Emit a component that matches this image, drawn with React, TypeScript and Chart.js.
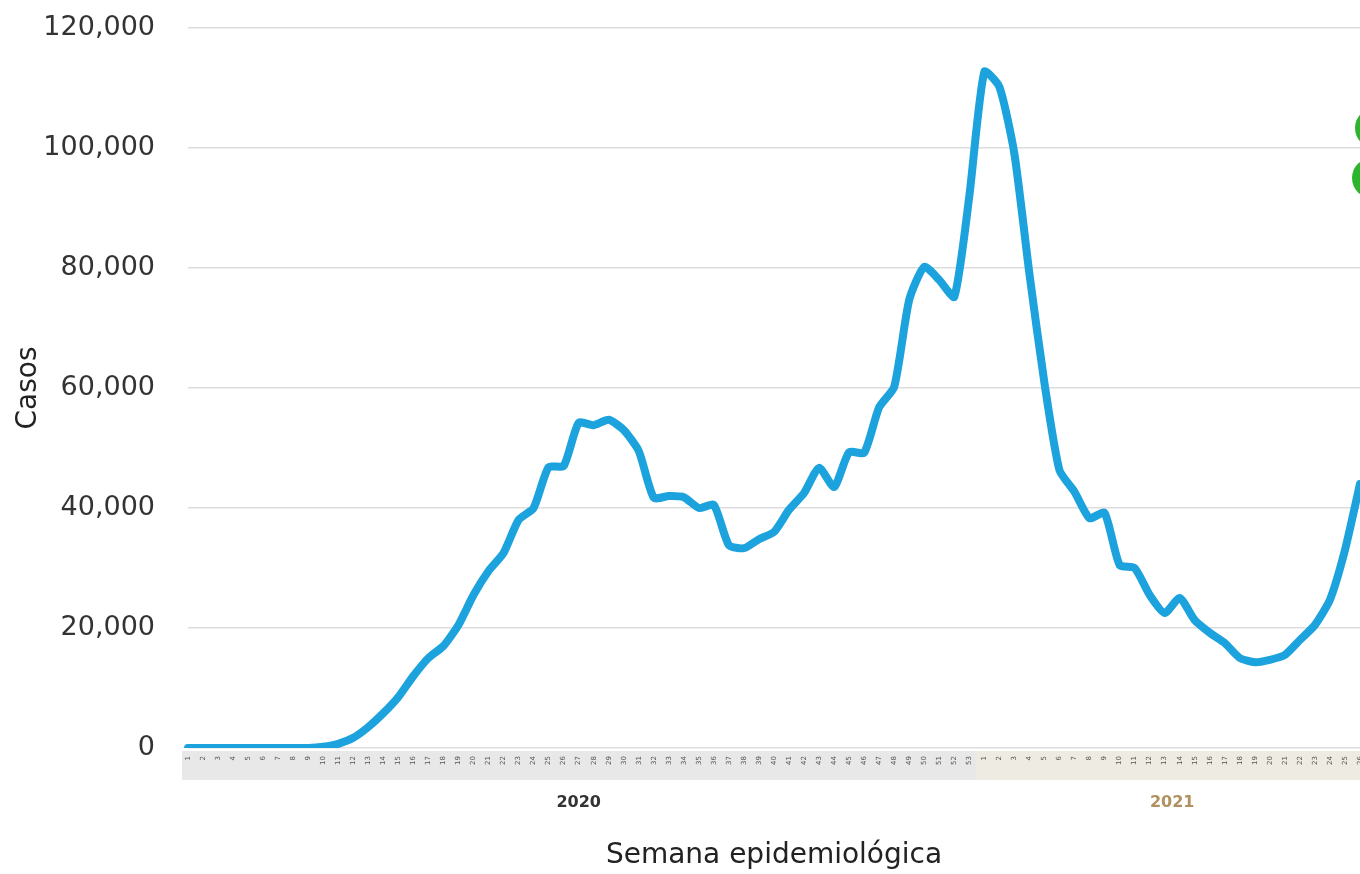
import React, { useEffect, useRef } from "react";
import { Chart, registerables } from "chart.js";

Chart.register(...registerables);

const weeks2020: string[] = Array.from({ length: 53 }, (_, i) => String(i + 1));
const weeks2021: string[] = Array.from({ length: 26 }, (_, i) => String(i + 1));
const weekLabels: string[] = [...weeks2020, ...weeks2021];

const yearLabels: string[] = ["2020", "2021"];
const yearColors: string[] = ["#333333", "#b0915f"];

const casos2020: number[] = [
  0, 0, 0, 0, 0, 0, 0, 0, 0, 200,
  700, 1700, 3500, 5800, 8500, 12000, 15000, 17000, 20500, 25500,
  29500, 32500, 38000, 40000, 46800, 47000, 54200, 53800, 54700, 53000,
  49500, 41700, 42000, 41800, 40000, 40500, 33800, 33300, 34800, 36000,
  39700, 42500, 46700, 43500, 49300, 49200, 56800, 60200, 74700, 80200,
  78000, 75200, 92000,
];
const casos2021: number[] = [
  112700, 110200, 99000, 79000, 60800, 46300, 42700, 38300, 39200, 30500,
  30000, 25500, 22500, 25000, 21300, 19200, 17500, 15000, 14300, 14700,
  15500, 18000, 20500, 24700, 33000, 44000,
];
const casos: number[] = [...casos2020, ...casos2021];

const W = 1360;
const H = 874;

export default function App() {
  const ref = useRef<HTMLCanvasElement | null>(null);

  useEffect(() => {
    if (!ref.current) return;

    const bandPlugin = {
      id: "bandPlugin",
      beforeDraw(chart: any) {
        const { ctx, chartArea, scales } = chart;
        const x = scales.x;
        const split =
          (x.getPixelForValue(weeks2020.length - 1) + x.getPixelForValue(weeks2020.length)) / 2;
        ctx.save();
        ctx.fillStyle = "#ffffff";
        ctx.fillRect(0, 0, chart.width, chart.height);
        const top = chartArea.bottom + 3;
        const h = 29;
        ctx.fillStyle = "#e8e8e8";
        ctx.fillRect(chartArea.left - 6, top, split - (chartArea.left - 6), h);
        ctx.fillStyle = "#eeebe3";
        ctx.fillRect(split, top, chart.width - split, h);
        ctx.restore();
      },
      afterDraw(chart: any) {
        const { ctx, chartArea, scales } = chart;
        const x = scales.x;
        const groups = [
          [0, weeks2020.length - 1],
          [weeks2020.length, weekLabels.length - 1],
        ];
        ctx.save();
        ctx.font = "bold 16px 'DejaVu Sans', sans-serif";
        ctx.textAlign = "center";
        ctx.textBaseline = "middle";
        groups.forEach((g, i) => {
          const cx = (x.getPixelForValue(g[0]) + x.getPixelForValue(g[1])) / 2;
          ctx.fillStyle = yearColors[i];
          ctx.fillText(yearLabels[i], cx, chartArea.bottom + 55);
        });
        // cut-off legend markers at the right edge
        ctx.fillStyle = "#2cb52c";
        ctx.beginPath();
        ctx.arc(chart.width + 15, 128, 20, 0, Math.PI * 2);
        ctx.fill();
        ctx.beginPath();
        ctx.arc(chart.width + 12, 178, 20, 0, Math.PI * 2);
        ctx.fill();
        ctx.restore();
      },
    };

    const chart = new Chart(ref.current, {
      type: "line",
      data: {
        labels: weekLabels,
        datasets: [
          {
            label: "Casos",
            data: casos,
            borderColor: "#1ca2dd",
            backgroundColor: "#1ca2dd",
            borderWidth: 8,
            pointRadius: 0,
            tension: 0.2,
            borderJoinStyle: "round",
            borderCapStyle: "round",
            fill: false,
          },
        ],
      },
      options: {
        responsive: false,
        animation: false,
        layout: { padding: { left: 0, right: 0, top: 28, bottom: 0 } },
        plugins: {
          legend: { display: false },
          tooltip: { enabled: false },
        },
        scales: {
          x: {
            type: "category",
            offset: false,
            grid: { display: false, drawTicks: false },
            border: { display: false },
            ticks: {
              autoSkip: false,
              maxRotation: 90,
              minRotation: 90,
              padding: 8,
              color: "#555555",
              font: { size: 7, family: "'DejaVu Sans', sans-serif" },
            },
            title: {
              display: true,
              text: "Semana epidemiológica",
              color: "#222222",
              font: { size: 28, family: "'DejaVu Sans', sans-serif" },
              padding: { top: 0, bottom: 1 },
            },
            afterFit(scale: any) {
              scale.height = 126;
              scale.paddingLeft = 0;
              scale.paddingRight = 0;
            },
          },
          y: {
            min: 0,
            max: 120000,
            grid: { color: "#dddddd", lineWidth: 1.5, drawTicks: false },
            border: { display: false },
            ticks: {
              stepSize: 20000,
              padding: 33,
              color: "#333333",
              font: { size: 27, family: "'DejaVu Sans', sans-serif" },
              callback: (v: any) => Number(v).toLocaleString("en-US"),
            },
            title: {
              display: true,
              text: "Casos",
              color: "#222222",
              font: { size: 28, family: "'DejaVu Sans', sans-serif" },
              padding: { top: 12, bottom: 0 },
            },
            afterFit(scale: any) {
              scale.width = 188;
              scale.paddingTop = 0;
              scale.paddingBottom = 0;
            },
          },
        },
      },
      plugins: [bandPlugin],
    });

    return () => chart.destroy();
  }, []);

  return (
    <div style={{ position: "absolute", left: 0, top: 0, width: W, height: H, overflow: "hidden", background: "#ffffff" }}>
      <canvas ref={ref} width={W} height={H} style={{ width: W, height: H, display: "block" }} />
    </div>
  );
}
